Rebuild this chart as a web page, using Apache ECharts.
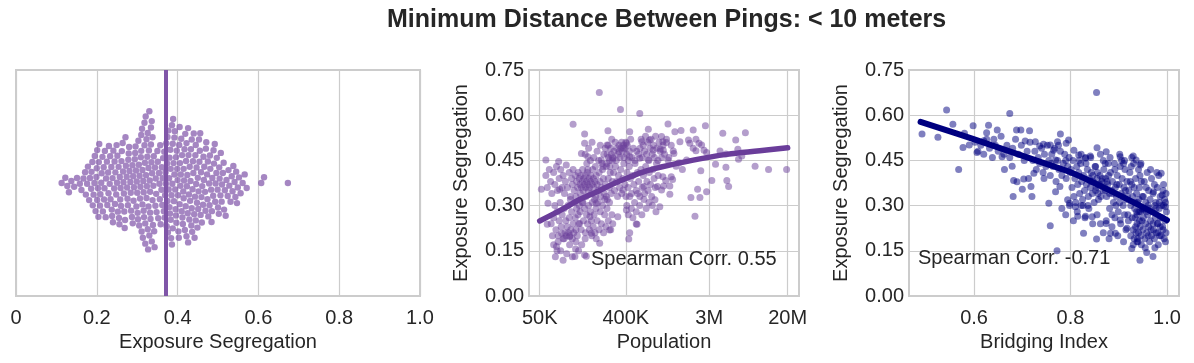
<!DOCTYPE html>
<html><head><meta charset="utf-8">
<script src="https://cdn.jsdelivr.net/npm/echarts@6/dist/echarts.min.js"></script>
<style>html,body{margin:0;padding:0;background:#fff}#c{width:1194px;height:363px}</style>
</head><body><div id="c"></div><script>
// ---------------- data ----------------
const titleText = 'Minimum Distance Between Pings: < 10 meters';

// left panel: exposure segregation of every city (swarm)
const swarmSeg = [
0.113,0.122,0.127,0.131,0.137,0.144,0.151,0.158,0.162,0.167,
0.171,0.173,0.176,0.178,0.181,0.183,0.186,0.187,0.189,
0.190,0.192,0.194,0.195,0.197,0.199,
0.200,0.201,0.201,0.203,0.204,0.205,0.206,0.208,0.209,
0.211,0.212,0.214,0.215,0.217,0.218,0.219,
0.220,0.222,0.223,0.225,0.226,0.228,0.229,
0.230,0.232,0.233,0.234,0.236,0.237,0.238,0.239,
0.240,0.241,0.243,0.244,0.245,0.246,0.248,0.249,
0.250,0.251,0.252,0.254,0.255,0.256,0.257,0.258,0.259,
0.260,0.261,0.262,0.264,0.265,0.266,0.267,0.268,0.269,
0.270,0.271,0.272,0.274,0.275,0.276,0.277,0.278,0.279,
0.280,0.281,0.283,0.284,0.285,0.287,0.288,0.289,
0.290,0.291,0.292,0.294,0.295,0.296,0.297,0.298,0.299,
0.300,0.301,0.302,0.303,0.304,0.305,0.306,0.307,0.308,0.309,
0.310,0.310,0.311,0.312,0.313,0.313,0.314,0.315,0.316,0.316,0.317,0.318,0.318,0.319,
0.320,0.320,0.321,0.322,0.323,0.323,0.324,0.325,0.326,0.326,0.327,0.328,0.328,0.329,
0.330,0.330,0.331,0.332,0.332,0.333,0.334,0.334,0.335,0.336,0.336,0.337,0.338,0.338,0.339,
0.340,0.341,0.342,0.343,0.344,0.345,0.346,0.347,0.348,
0.350,0.351,0.352,0.354,0.355,0.356,0.357,0.358,
0.360,0.361,0.362,0.363,0.364,0.366,0.367,0.368,0.369,
0.370,0.371,0.372,0.373,0.374,0.375,0.375,0.376,0.377,0.378,0.379,
0.380,0.380,0.381,0.382,0.383,0.383,0.384,0.385,0.386,0.386,0.387,0.388,0.388,0.389,
0.390,0.391,0.392,0.392,0.393,0.394,0.395,0.396,0.396,0.397,0.398,0.399,
0.400,0.401,0.402,0.403,0.404,0.405,0.405,0.406,0.407,0.408,0.409,
0.410,0.411,0.412,0.413,0.414,0.415,0.415,0.416,0.417,0.418,0.419,
0.420,0.421,0.422,0.422,0.423,0.424,0.425,0.426,0.426,0.427,0.428,0.429,
0.430,0.431,0.432,0.433,0.434,0.435,0.435,0.436,0.437,0.438,0.439,
0.440,0.441,0.442,0.443,0.444,0.445,0.445,0.446,0.447,0.448,0.449,
0.450,0.451,0.452,0.453,0.454,0.455,0.456,0.457,0.458,0.459,
0.460,0.461,0.463,0.464,0.465,0.466,0.468,0.469,
0.470,0.471,0.473,0.474,0.475,0.476,0.478,0.479,
0.480,0.481,0.483,0.484,0.485,0.486,0.488,0.489,
0.490,0.492,0.493,0.494,0.496,0.497,0.499,
0.500,0.502,0.503,0.504,0.506,0.507,0.509,
0.510,0.512,0.514,0.515,0.517,0.519,
0.521,0.524,0.526,0.528,
0.531,0.534,0.536,0.538,
0.541,0.543,0.545,0.547,0.549,
0.552,0.556,0.561,0.566,0.571,
0.607,0.614,0.673
];
const swarmMean = 0.368;
const swarmTicks = [0, 0.2, 0.4, 0.6, 0.8, 1.0];

// middle panel: [population in thousands, exposure segregation]
const popPoints = [
[211,0.675],[352,0.619],[561,0.606],[112,0.570],[1110,0.571],[2740,0.565],[148,0.538],[260,0.548],[440,0.545],[690,0.553],
[4170,0.540],[7200,0.542],[5700,0.518],[6000,0.487],[6600,0.465],[6100,0.454],[3900,0.481],[4500,0.471],[3500,0.437],[4500,0.427],
[9100,0.431],[12600,0.420],[19500,0.420],[3200,0.383],[4600,0.383],[4800,0.363],[2820,0.346],[2270,0.354],[2400,0.327],[1930,0.327],
[2130,0.265],[2450,0.416],[1570,0.420],[1240,0.387],[1160,0.338],[910,0.296],[950,0.352],[1000,0.365],[1050,0.383],[1280,0.473],
[1260,0.481],[1480,0.512],[1820,0.518],[1880,0.507],[2040,0.490],[2180,0.482],[2350,0.507],[2500,0.501],[2180,0.520],[2820,0.476],
[2650,0.484],[920,0.488],[980,0.512],[1070,0.509],[950,0.529],[1740,0.451],[1450,0.442],[2040,0.551],[1520,0.549],[1310,0.545],
[58,0.451],[79,0.446],[95,0.435],[137,0.473],[160,0.462],[221,0.451],[294,0.457],[440,0.462],[561,0.457],[690,0.451],
[52,0.354],[61,0.308],[81,0.354],[60,0.238],[85,0.208],[75,0.164],[88,0.119],[117,0.131],[148,0.136],[213,0.175],
[270,0.219],[440,0.210],[515,0.239],[330,0.263],[406,0.285],[810,0.319],[860,0.363],[620,0.363],[375,0.352],[250,0.330],
[196,0.308],[168,0.263],[131,0.241],[103,0.197],[174,0.208],[148,0.507],[255,0.501],[375,0.490],[406,0.507],[340,0.479],
[590,0.512],[710,0.518],[775,0.484],
[76,0.150],[154,0.132],[119,0.156],[525,0.238],[430,0.189],[990,0.484],[1110,0.451],[1350,0.431],[1200,0.396],[980,0.396],[1160,0.365],
[98,0.36],[102,0.41],[105,0.33],[108,0.39],[110,0.37],[112,0.42],[115,0.35],[118,0.40],[120,0.33],[122,0.38],
[125,0.36],[127,0.41],[130,0.39],[132,0.37],[133,0.34],[135,0.40],[137,0.36],[140,0.38],[141,0.42],[143,0.35],
[145,0.39],[147,0.37],[150,0.40],[152,0.36],[153,0.33],[155,0.38],[158,0.41],[160,0.37],[162,0.35],[165,0.39],
[167,0.36],[170,0.38],[172,0.40],[175,0.34],[178,0.37],[180,0.42],[183,0.39],[186,0.36],[190,0.38],[193,0.33],
[196,0.40],[200,0.37],[205,0.35],[210,0.41],[214,0.38],[218,0.33],[222,0.36],[228,0.42],[233,0.39],[238,0.34],
[245,0.37],[250,0.43],[256,0.32],[262,0.39],[268,0.36],[275,0.41],[282,0.34],[290,0.38],[142,0.31],[188,0.32],
[70,0.26],[72,0.30],[74,0.22],[76,0.28],[78,0.20],[80,0.25],[82,0.31],[84,0.23],[86,0.27],[88,0.19],
[90,0.29],[92,0.21],[94,0.25],[95,0.20],[97,0.23],[99,0.30],[100,0.21],[102,0.26],[104,0.20],[106,0.22],
[108,0.28],[110,0.19],[112,0.24],[114,0.21],[116,0.31],[118,0.26],[120,0.22],[122,0.29],[124,0.20],[126,0.27],
[128,0.24],[130,0.30],[66,0.24],[68,0.20],[105,0.32],
[255,0.47],[262,0.50],[270,0.45],[278,0.49],[285,0.52],[292,0.46],[300,0.48],[310,0.51],[318,0.45],[325,0.49],
[332,0.47],[340,0.50],[348,0.46],[355,0.49],[362,0.51],[370,0.48],[378,0.50],[385,0.46],[392,0.49],[400,0.51],
[408,0.47],[415,0.50],[425,0.45],[438,0.48],[450,0.52],[465,0.46],[480,0.49],[500,0.45],[520,0.48],[545,0.47],
[133,0.28],[136,0.22],[140,0.31],[144,0.25],[148,0.29],[151,0.21],[155,0.27],[159,0.24],[163,0.30],[166,0.22],
[170,0.28],[174,0.25],[178,0.31],[182,0.23],[186,0.27],[190,0.21],[195,0.29],[200,0.25],[205,0.31],[210,0.22],
[216,0.28],[222,0.24],[228,0.30],[234,0.21],[240,0.27],[247,0.23],[254,0.29],[262,0.25],[270,0.31],[278,0.22],
[286,0.27],[292,0.24],[196,0.19],[176,0.20],[240,0.32],
[298,0.41],[305,0.35],[312,0.43],[320,0.38],[328,0.33],[336,0.40],[345,0.36],[354,0.42],[363,0.34],[372,0.39],
[382,0.44],[392,0.37],[402,0.33],[412,0.41],[423,0.36],[435,0.43],[447,0.39],[460,0.34],[473,0.40],[487,0.37],
[500,0.44],[515,0.35],[530,0.41],[546,0.38],[562,0.33],[578,0.42],[595,0.36],[612,0.40],[630,0.34],[648,0.43],
[667,0.38],[686,0.35],[706,0.41],[727,0.37],[748,0.33],[770,0.42],[793,0.39],[816,0.36],[840,0.44],[875,0.40],
[565,0.49],[580,0.52],[595,0.46],[610,0.50],[628,0.48],[645,0.53],[662,0.47],[680,0.51],[700,0.45],[718,0.49],
[738,0.52],[758,0.47],[780,0.50],[800,0.46],[822,0.53],[845,0.49],[870,0.45],[895,0.51],[920,0.48],[950,0.46],
[985,0.50],[1020,0.47],[1070,0.52],[1130,0.46],[1200,0.50],
[58,0.40],[60,0.36],[63,0.42],[65,0.38],[67,0.34],[70,0.41],[72,0.37],[75,0.43],[77,0.35],[80,0.39],
[83,0.42],[86,0.36],[88,0.40],[91,0.34],[93,0.38],
[150,0.47],[156,0.44],[163,0.49],[170,0.45],[177,0.51],[185,0.46],[192,0.43],[200,0.48],[208,0.45],[216,0.50],
[225,0.44],[235,0.47],[244,0.49],[253,0.44],[263,0.46],[272,0.43],[282,0.47],[290,0.45],[160,0.42],[230,0.43],
[410,0.30],[425,0.27],[440,0.33],[458,0.29],[475,0.26],[495,0.31],[515,0.28],[535,0.34],[560,0.30],[590,0.27],
[620,0.32],[655,0.29],[700,0.31],[760,0.30],[830,0.28],
[70,0.17],[73,0.13],[78,0.18],[83,0.15],[90,0.19],[96,0.14],[103,0.17],[110,0.13],[120,0.18],[128,0.15],
[138,0.17],[150,0.19]
];
const popFit = [[50,0.249],[88,0.289],[131,0.320],[197,0.345],[294,0.372],[440,0.395],[659,0.415],[911,0.427],[2040,0.451],[4580,0.470],[10200,0.482],[20000,0.492]];
const popTickValuesK = [50, 400, 3000, 20000];
const popTickLabels = ['50K', '400K', '3M', '20M'];
const popRangeK = [38.6, 26300];
const popCorr = 'Spearman Corr. 0.55';

// right panel: [bridging index, exposure segregation]
const bridgePoints = [
[0.492,0.538],[0.525,0.527],[0.543,0.617],[0.556,0.570],[0.568,0.420],[0.580,0.540],[0.577,0.493],[0.590,0.501],[0.598,0.565],[0.606,0.476],
[0.620,0.515],[0.630,0.567],[0.626,0.542],[0.648,0.551],[0.641,0.520],[0.658,0.462],[0.663,0.420],[0.674,0.606],[0.679,0.431],[0.682,0.383],
[0.689,0.379],[0.681,0.330],[0.700,0.354],[0.703,0.388],[0.688,0.551],[0.697,0.551],[0.706,0.514],[0.715,0.548],[0.720,0.330],[0.718,0.363],
[0.713,0.390],[0.724,0.407],[0.727,0.512],[0.736,0.498],[0.744,0.504],[0.758,0.501],[0.755,0.308],[0.758,0.233],[0.772,0.150],[0.765,0.484],
[0.773,0.512],[0.779,0.538],[0.769,0.451],[0.769,0.346],[0.778,0.363],[0.791,0.507],[0.796,0.518],[0.794,0.319],[0.798,0.308],[0.810,0.296],
[0.807,0.484],[0.815,0.265],[0.827,0.208],[0.831,0.265],[0.845,0.263],[0.854,0.189],[0.854,0.675],[0.855,0.492],[0.841,0.465],[0.831,0.457],
[0.817,0.468],[0.874,0.479],[0.874,0.241],[0.883,0.208],[0.893,0.208],[0.903,0.462],[0.910,0.440],[0.927,0.460],[0.936,0.451],[0.945,0.435],
[0.927,0.158],[0.944,0.119],[0.958,0.144],[0.971,0.131],[0.988,0.407],[0.990,0.335],[0.997,0.296],[0.972,0.346],[0.981,0.241],[0.950,0.285],
[0.938,0.180],[0.917,0.225],[0.903,0.252],[0.930,0.465],
[0.801,0.42],[0.803,0.36],[0.805,0.45],[0.807,0.33],[0.809,0.39],[0.811,0.31],[0.813,0.43],[0.815,0.37],[0.817,0.41],[0.819,0.34],
[0.821,0.44],[0.823,0.38],[0.825,0.32],[0.827,0.40],[0.829,0.35],[0.831,0.46],[0.833,0.37],[0.835,0.42],[0.837,0.33],[0.839,0.39],
[0.841,0.36],[0.843,0.41],[0.845,0.34],[0.847,0.38],[0.849,0.31],[0.851,0.43],[0.853,0.36],[0.855,0.39],[0.857,0.34],[0.859,0.37],
[0.861,0.40],[0.863,0.33],[0.865,0.38],[0.867,0.35],[0.869,0.42],[0.871,0.36],[0.873,0.39],[0.875,0.33],[0.877,0.37],[0.879,0.40],
[0.881,0.34],[0.842,0.38],[0.852,0.35],[0.862,0.37],[0.872,0.35],[0.846,0.40],[0.856,0.41],[0.866,0.39],[0.876,0.38],[0.836,0.30],
[0.818,0.45],[0.826,0.30],[0.868,0.45],[0.878,0.44],[0.858,0.32],
[0.881,0.29],[0.883,0.41],[0.885,0.35],[0.887,0.38],[0.889,0.31],[0.891,0.44],[0.893,0.36],[0.895,0.33],[0.897,0.40],[0.899,0.28],
[0.901,0.37],[0.903,0.43],[0.905,0.34],[0.907,0.39],[0.909,0.30],[0.911,0.36],[0.913,0.42],[0.915,0.32],[0.917,0.38],[0.919,0.27],
[0.921,0.35],[0.923,0.41],[0.925,0.30],[0.927,0.37],[0.929,0.33],[0.931,0.44],[0.933,0.29],[0.935,0.39],[0.937,0.34],[0.939,0.31],
[0.941,0.42],[0.943,0.36],[0.945,0.28],[0.947,0.38],[0.949,0.33],[0.886,0.27],[0.894,0.30],[0.902,0.31],[0.912,0.27],[0.918,0.33],
[0.924,0.38],[0.932,0.36],[0.938,0.27],[0.944,0.40],[0.906,0.45],[0.926,0.43],[0.946,0.44],[0.896,0.37],[0.914,0.35],[0.934,0.31],
[0.942,0.32],[0.888,0.34],[0.908,0.33],[0.928,0.26],[0.948,0.29],
[0.930,0.22],[0.932,0.19],[0.934,0.26],[0.936,0.21],[0.938,0.24],[0.940,0.18],[0.942,0.28],[0.944,0.23],[0.946,0.20],[0.948,0.25],
[0.950,0.22],[0.952,0.29],[0.954,0.19],[0.956,0.24],[0.958,0.21],[0.960,0.27],[0.962,0.23],[0.964,0.18],[0.966,0.25],[0.968,0.20],
[0.970,0.28],[0.972,0.22],[0.974,0.19],[0.976,0.26],[0.978,0.21],[0.980,0.24],[0.982,0.17],[0.984,0.29],[0.986,0.23],[0.988,0.20],
[0.990,0.26],[0.992,0.22],[0.994,0.19],[0.996,0.25],[0.998,0.21],[0.999,0.28],[0.941,0.21],[0.951,0.26],[0.961,0.20],[0.971,0.24],
[0.981,0.21],[0.991,0.23],[0.937,0.28],[0.947,0.17],[0.957,0.28],[0.967,0.22],[0.977,0.29],[0.987,0.26],[0.997,0.18],[0.955,0.16],
[0.975,0.16],[0.985,0.20],[0.963,0.29],[0.943,0.25],[0.993,0.30],
[0.951,0.33],[0.953,0.38],[0.956,0.31],[0.959,0.41],[0.962,0.35],[0.965,0.32],[0.968,0.39],[0.971,0.34],[0.974,0.37],[0.977,0.31],
[0.980,0.36],[0.983,0.40],[0.986,0.33],[0.989,0.30],[0.992,0.35],[0.995,0.32],[0.998,0.34],[0.957,0.36],[0.966,0.42],[0.975,0.30],
[0.984,0.31],[0.993,0.37],[0.961,0.30],[0.979,0.41],[0.997,0.31],
[0.722,0.45],[0.726,0.48],[0.729,0.42],[0.733,0.46],[0.736,0.44],[0.740,0.49],[0.743,0.41],[0.746,0.47],[0.749,0.43],[0.752,0.50],
[0.755,0.45],[0.758,0.40],[0.761,0.47],[0.764,0.43],[0.767,0.49],[0.770,0.38],[0.773,0.45],[0.776,0.42],[0.779,0.48],[0.782,0.40],
[0.785,0.44],[0.788,0.47],[0.791,0.39],[0.794,0.43],[0.797,0.46],[0.799,0.41],[0.760,0.44],[0.775,0.50],[0.790,0.45],[0.745,0.39],
[0.602,0.51],[0.608,0.48],[0.614,0.50],[0.620,0.47],[0.626,0.52],[0.632,0.49],[0.638,0.46],[0.644,0.50],[0.650,0.48],[0.656,0.53],
[0.662,0.47],[0.668,0.50],[0.674,0.46],[0.680,0.49],[0.686,0.52],[0.692,0.47],[0.698,0.50],[0.704,0.45],[0.710,0.48],[0.716,0.51],
[0.862,0.24],[0.868,0.21],[0.874,0.25],[0.880,0.19],[0.886,0.23],[0.892,0.26],[0.898,0.20],[0.904,0.24],[0.910,0.18],[0.915,0.22],
[0.920,0.25],[0.925,0.20],[0.930,0.17],[0.935,0.23],[0.939,0.19],
[0.782,0.29],[0.790,0.27],[0.798,0.30],[0.806,0.25],[0.814,0.28],[0.822,0.30],[0.830,0.26],[0.838,0.29],[0.846,0.24],[0.855,0.27],
[0.822,0.47],[0.832,0.44],[0.842,0.46],[0.852,0.43],[0.862,0.47],[0.872,0.44],[0.882,0.46],[0.892,0.42],[0.902,0.47],[0.912,0.45]
];
const bridgeFit = [[0.489,0.578],[0.596,0.522],[0.730,0.449],[0.796,0.413],[0.865,0.363],[0.934,0.308],[1.0,0.252]];
const bridgeTicks = [0.6, 0.8, 1.0];
const bridgeRange = [0.465, 1.025];
const bridgeCorr = 'Spearman Corr. -0.71';

const segRange = [0, 0.75];
const segInterval = 0.15;

// ---------------- layout / style ----------------
const FONT = '"Liberation Sans", Arial, Helvetica, sans-serif';
const TXT = '#262626';
const GRIDC = '#cccccc';
const G = [
  {left: 16, top: 70, width: 404, height: 226},
  {left: 529, top: 70, width: 270, height: 226},
  {left: 909, top: 70, width: 270, height: 226}
];
const DOT = 6.4;

// beeswarm offsets (in pixels of the left panel), seaborn-like greedy placement
function swarmOffsets(vals, pxPerUnit, d) {
  const order = vals.map((v, i) => i).sort((a, b) => vals[a] - vals[b]);
  const placed = [];
  const out = new Array(vals.length);
  for (const i of order) {
    const x = vals[i] * pxPerUnit;
    const nb = placed.filter(p => Math.abs(p.x - x) < d);
    const cands = [0];
    nb.forEach(p => {
      const dy = Math.sqrt(d * d - (p.x - x) * (p.x - x));
      cands.push(p.y + dy, p.y - dy);
    });
    cands.sort((a, b) => Math.abs(a) - Math.abs(b));
    let y = 0;
    for (const c of cands) {
      if (nb.every(p => (p.x - x) * (p.x - x) + (p.y - c) * (p.y - c) >= d * d - 1e-6)) { y = c; break; }
    }
    placed.push({x, y});
    out[i] = y;
  }
  return out;
}
const offs = swarmOffsets(swarmSeg, G[0].width, DOT);
const swarmData = swarmSeg.map((v, i) => [v, offs[i]]);
const halfH = G[0].height / 2;

const lg = v => Math.log10(v);
const axisName = (name, gap) => ({
  name, nameLocation: 'middle', nameGap: gap,
  nameTextStyle: {color: TXT, fontSize: 20, fontFamily: FONT}
});
const baseLabel = {color: TXT, fontSize: 20, fontFamily: FONT};
const split = {show: true, lineStyle: {color: GRIDC, width: 1.2}};

const chart = echarts.init(document.getElementById('c'), null, {renderer: 'canvas'});
chart.setOption({
  animation: false,
  backgroundColor: '#ffffff',
  grid: G.map(g => Object.assign({show: true, borderColor: GRIDC, borderWidth: 2, containLabel: false}, g)),
  xAxis: [
    Object.assign({
      gridIndex: 0, type: 'value', min: 0, max: 1, interval: 0.2,
      axisLine: {show: false}, axisTick: {show: false},
      axisLabel: Object.assign({margin: 12, formatter: v => v === 0 ? '0' : v.toFixed(1)}, baseLabel),
      splitLine: split
    }, axisName('Exposure Segregation', 36)),
    Object.assign({
      gridIndex: 1, type: 'value', min: lg(popRangeK[0]), max: lg(popRangeK[1]),
      axisLine: {show: false},
      axisTick: {show: false, customValues: popTickValuesK.map(lg)},
      axisLabel: Object.assign({margin: 12, customValues: popTickValuesK.map(lg),
        formatter: v => {
          let best = 0;
          popTickValuesK.forEach((t, i) => { if (Math.abs(lg(t) - v) < Math.abs(lg(popTickValuesK[best]) - v)) best = i; });
          return popTickLabels[best];
        }}, baseLabel),
      splitLine: split
    }, axisName('Population', 36)),
    Object.assign({
      gridIndex: 2, type: 'value', min: bridgeRange[0], max: bridgeRange[1],
      axisLine: {show: false},
      axisTick: {show: false, customValues: bridgeTicks},
      axisLabel: Object.assign({margin: 12, customValues: bridgeTicks, formatter: v => v.toFixed(1)}, baseLabel),
      splitLine: split
    }, axisName('Bridging Index', 36))
  ],
  yAxis: [
    {gridIndex: 0, type: 'value', min: -halfH, max: halfH, show: false},
    Object.assign({
      gridIndex: 1, type: 'value', min: segRange[0], max: segRange[1], interval: segInterval,
      axisLine: {show: false}, axisTick: {show: false},
      axisLabel: Object.assign({margin: 5, formatter: v => v.toFixed(2)}, baseLabel),
      splitLine: split
    }, axisName('Exposure Segregation', 58)),
    Object.assign({
      gridIndex: 2, type: 'value', min: segRange[0], max: segRange[1], interval: segInterval,
      axisLine: {show: false}, axisTick: {show: false},
      axisLabel: Object.assign({margin: 5, formatter: v => v.toFixed(2)}, baseLabel),
      splitLine: split
    }, axisName('Exposure Segregation', 58))
  ],
  series: [
    {
      type: 'scatter', xAxisIndex: 0, yAxisIndex: 0, data: swarmData,
      symbolSize: DOT, itemStyle: {color: 'rgb(130,88,170)', opacity: 0.72},
      silent: true, z: 2,
      markLine: {
        silent: true, symbol: 'none', label: {show: false}, z: 5,
        lineStyle: {color: 'rgb(128,86,168)', width: 4, type: 'solid', opacity: 1},
        data: [{xAxis: swarmMean}]
      }
    },
    {
      type: 'scatter', xAxisIndex: 1, yAxisIndex: 1,
      data: popPoints.map(p => [lg(p[0]), p[1]]),
      symbolSize: 7, itemStyle: {color: '#6a3d9a', opacity: 0.5}, silent: true, z: 2
    },
    {
      type: 'line', xAxisIndex: 1, yAxisIndex: 1,
      data: popFit.map(p => [lg(p[0]), p[1]]), smooth: 0.4, showSymbol: false,
      lineStyle: {color: '#6a3d9a', width: 5.5, cap: 'round'}, silent: true, z: 4
    },
    {
      type: 'scatter', xAxisIndex: 2, yAxisIndex: 2, data: bridgePoints,
      symbolSize: 7, itemStyle: {color: '#000080', opacity: 0.5}, silent: true, z: 2
    },
    {
      type: 'line', xAxisIndex: 2, yAxisIndex: 2, data: bridgeFit, smooth: 0.4, showSymbol: false,
      lineStyle: {color: '#000080', width: 6, cap: 'round'}, silent: true, z: 4
    }
  ],
  graphic: [
    {type: 'text', left: 387, top: 8, z: 10,
     style: {text: titleText, fill: TXT, font: 'bold 25px ' + FONT}},
    {type: 'text', left: 591, top: 249, z: 10,
     style: {text: popCorr, fill: TXT, font: '20px ' + FONT}},
    {type: 'text', left: 918, top: 248, z: 10,
     style: {text: bridgeCorr, fill: TXT, font: '20px ' + FONT}}
  ]
});
</script></body></html>
